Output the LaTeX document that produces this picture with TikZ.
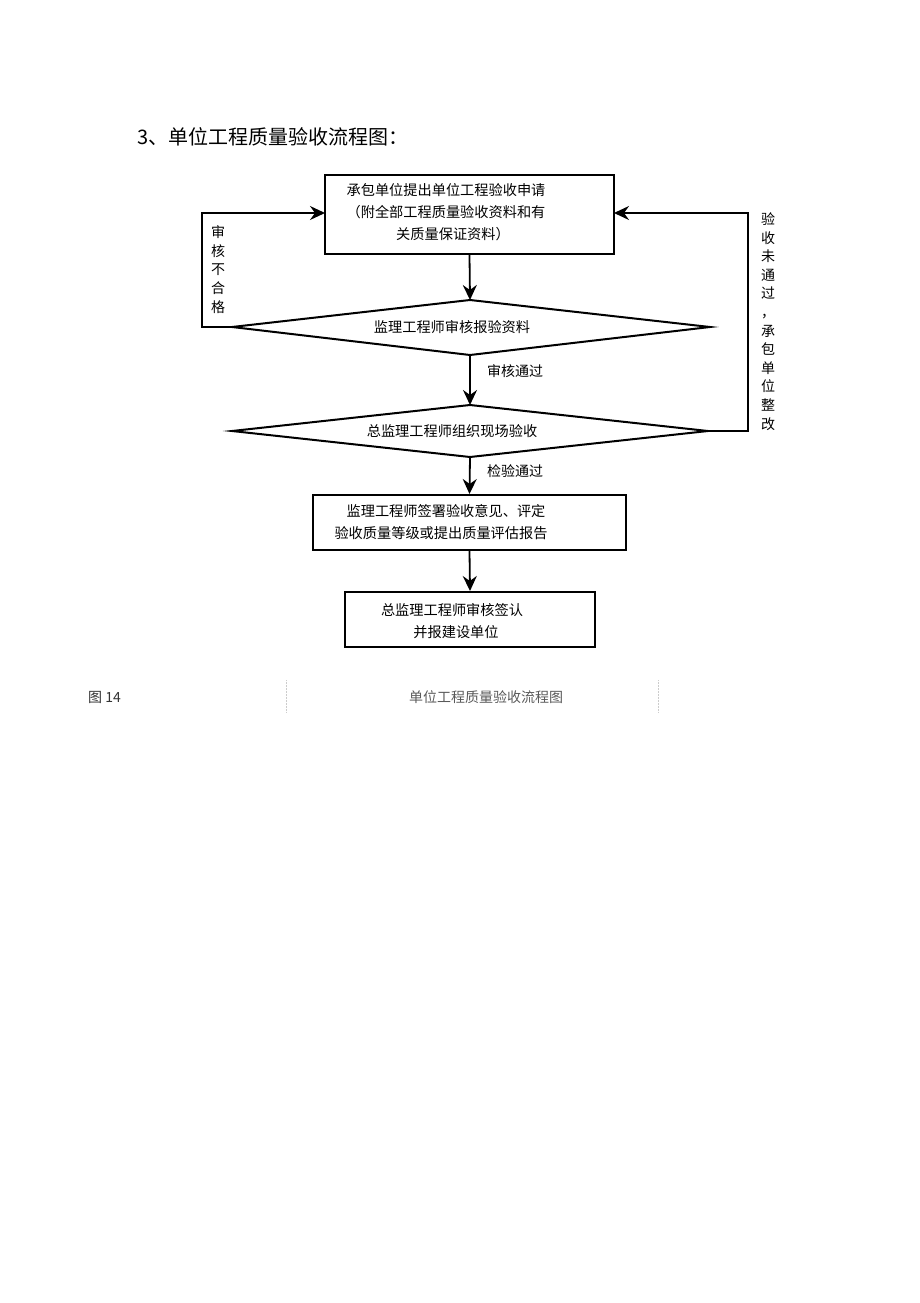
\documentclass[tikz,border=0pt]{standalone}
\usepackage{fontspec}
\newfontfamily\cjk{Noto Sans CJK SC}
\usetikzlibrary{arrows.meta}
\begin{document}
\begin{tikzpicture}[x=1pt,y=-1pt,
  boxst/.style={draw, line width=2pt, inner sep=0pt},
  txt/.style={font=\cjk\fontsize{14.2}{22}\selectfont, align=center, inner sep=0pt},
  lbl/.style={font=\cjk\fontsize{14}{18.6}\selectfont, align=center, inner sep=0pt},
  edge/.style={line width=2pt},
  arr/.style={line width=1.8pt, -{Stealth[length=15pt,width=14pt,inset=5pt]}},
  loop/.style={line width=1.6pt, -{Stealth[length=15pt,width=14pt,inset=5pt]}}]
\useasboundingbox (0,0) rectangle (920,1303);

% title
\node[anchor=west, inner sep=0pt, font=\cjk\fontsize{20}{22}\selectfont] (title) at (137,137) {3、单位工程质量验收流程图：};

% box 1
\node[boxst, minimum width=289pt, minimum height=79pt] (box1) at (469.5,214.5) {};
\node[txt] (t1) at (446,212) {承包单位提出单位工程验收申请\\（附全部工程质量验收资料和有\\\hspace*{14pt}关质量保证资料）};

% diamond 1
\coordinate (d1t) at (470,300);
\coordinate (d1b) at (470,355);
\coordinate (d1l) at (232,327);
\coordinate (d1r) at (710,327);
\draw[edge, line join=miter] (d1l) -- (d1t) -- (d1r) -- (d1b) -- cycle;
\node[txt] (t2) at (452,327) {监理工程师审核报验资料};

% diamond 2
\coordinate (d2t) at (470,405);
\coordinate (d2b) at (470,457);
\coordinate (d2l) at (232,431);
\coordinate (d2r) at (708,431);
\draw[edge, line join=miter] (d2l) -- (d2t) -- (d2r) -- (d2b) -- cycle;
\node[txt] (t3) at (452,431) {总监理工程师组织现场验收};

% box 3
\node[boxst, minimum width=313pt, minimum height=55pt] (box3) at (469.5,522.5) {};
\node[txt] (t4) at (441,522.5) {\hspace*{10pt}监理工程师签署验收意见、评定\\验收质量等级或提出质量评估报告};

% box 4
\node[boxst, minimum width=250pt, minimum height=55pt] (box4) at (470,619.5) {};
\node[txt] (t5) at (452,621) {总监理工程师审核签认\\\hspace*{8pt}并报建设单位};

% main arrows
\draw[arr] (box1.south) -- (d1t);
\draw[arr] (d1b) -- (d2t);
\draw[arr] (d2b) -- (box3.north);
\draw[arr] (box3.south) -- (box4.north);

\node[lbl, anchor=west] (l1) at (487,371) {审核通过};
\node[lbl, anchor=west] (l2) at (487,471) {检验通过};

% left loop
\coordinate (a1) at (202,327);
\coordinate (a2) at (202,213);
\coordinate (a3) at (325,213);
\draw[loop] (d1l) -- (a1) -- (a2) -- (a3);
\node[lbl] (l3) at (218,269.5) {审\\核\\不\\合\\格};

% right loop
\coordinate (b1) at (748,431);
\coordinate (b2) at (748,213);
\coordinate (b3) at (614,213);
\draw[loop] (d2r) -- (b1) -- (b2) -- (b3);
\node[lbl] (l4) at (768,321.5) {验\\收\\未\\通\\过\\，\\承\\包\\单\\位\\整\\改};

% caption
\node[anchor=west, inner sep=0pt, font=\cjk\fontsize{14}{15}\selectfont, text=black!80] (cap1) at (88,697) {图 14};
\node[inner sep=0pt, font=\cjk\fontsize{14}{15}\selectfont, text=black!65] (cap2) at (486,697) {单位工程质量验收流程图};
\coordinate (v1t) at (286,680);
\coordinate (v1b) at (286,713);
\coordinate (v2t) at (658,680);
\coordinate (v2b) at (658,713);
\draw[black!20, line width=0.5pt, densely dotted] (v1t) -- (v1b);
\draw[black!20, line width=0.5pt, densely dotted] (v2t) -- (v2b);
\end{tikzpicture}
\end{document}
